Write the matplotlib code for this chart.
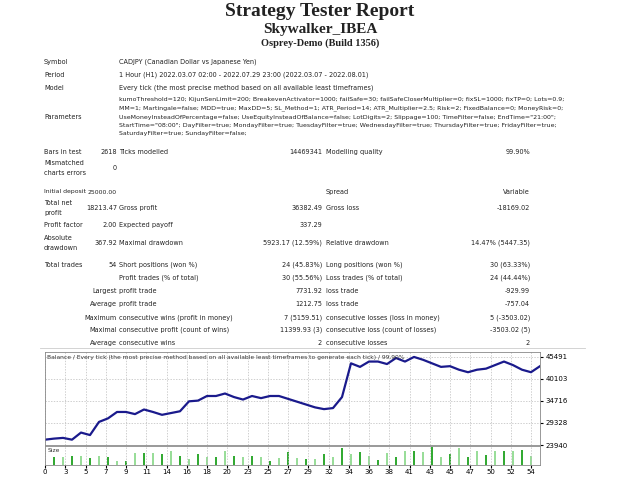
import matplotlib
matplotlib.use("Agg")
import matplotlib.pyplot as plt
import numpy as np

# balance after each trade (trade 0 = initial)
balance = [25244, 25504, 25678, 25244, 26982, 26373, 29589, 30458, 32022, 32022,
           31500, 32630, 32022, 31327, 31761, 32196, 34629, 34803, 35932, 35932,
           36541, 35672, 35063, 35932, 35411, 35932, 35932, 35237, 34542, 33847,
           33151, 32717, 32978, 35672, 43927, 43058, 44362, 44362, 43753, 45231,
           44362, 45491, 44796, 43927, 43058, 43232, 42363, 41754, 42363, 42624,
           43493, 44362, 43493, 42363, 41754, 43232]
lots = [0.60, 0.60, 0.65, 0.65, 0.48, 0.65, 0.60, 0.30, 0.30, 0.85,
        0.85, 0.85, 0.80, 0.98, 0.65, 0.43, 0.80, 0.55, 0.60, 0.98,
        0.65, 0.60, 0.65, 0.60, 0.30, 0.50, 0.90, 0.48, 0.40, 0.43,
        0.75, 0.55, 1.23, 0.75, 0.90, 0.65, 0.33, 0.85, 0.55, 0.98,
        1.03, 0.90, 1.30, 0.55, 0.75, 1.20, 0.60, 0.98, 0.73, 0.98,
        0.98, 0.98, 1.10, 0.65]
y_ticks = [23940, 29328, 34716, 40103, 45491]
x_labels = ["0", "3", "5", "7", "9", "11", "14", "16", "18", "20", "23", "25", "27",
            "29", "32", "34", "36", "38", "41", "43", "45", "47", "50", "52", "54"]

W, H = 640, 480
fig = plt.figure(figsize=(6.4, 4.8), dpi=100)
fig.patch.set_facecolor("white")

def t(x, y, s, size=4.7, ha="left", **kw):
    fig.text(x / W, 1 - y / H, s, fontsize=size, ha=ha, va="center", color="#222222", **kw)

t(320, 12, "Strategy Tester Report", 14, "center", family="Liberation Serif", weight="bold")
t(320, 29, "Skywalker_IBEA", 11, "center", family="Liberation Serif", weight="bold")
t(320, 43, "Osprey-Demo (Build 1356)", 7.5, "center", family="Liberation Serif", weight="bold")

t(44, 62, "Symbol"); t(119, 62, "CADJPY (Canadian Dollar vs Japanese Yen)")
t(44, 75, "Period"); t(119, 75, "1 Hour (H1) 2022.03.07 02:00 - 2022.07.29 23:00 (2022.03.07 - 2022.08.01)")
t(44, 88, "Model"); t(119, 88, "Every tick (the most precise method based on all available least timeframes)")
t(44, 117, "Parameters")
params = [
    "kumoThreshold=120; KijunSenLimit=200; BreakevenActivator=1000; failSafe=30; failSafeCloserMultiplier=0; fixSL=1000; fixTP=0; Lots=0.9;",
    "MM=1; Martingale=false; MDD=true; MaxDD=5; SL_Method=1; ATR_Period=14; ATR_Multiplier=2.5; Risk=2; FixedBalance=0; MoneyRisk=0;",
    "UseMoneyInsteadOfPercentage=false; UseEquityInsteadOfBalance=false; LotDigits=2; Slippage=100; TimeFilter=false; EndTime=\"21:00\";",
    "StartTime=\"08:00\"; DayFilter=true; MondayFilter=true; TuesdayFilter=true; WednesdayFilter=true; ThursdayFilter=true; FridayFilter=true;",
    "SaturdayFilter=true; SundayFilter=false;",
]
for i, p in enumerate(params):
    t(119, 100 + i * 8.5, p, 4.5)

t(44, 152, "Bars in test"); t(117, 152, "2618", ha="right"); t(119, 152, "Ticks modelled")
t(322, 152, "14469341", ha="right"); t(326, 152, "Modelling quality"); t(530, 152, "99.90%", ha="right")
t(44, 163, "Mismatched"); t(44, 173, "charts errors"); t(117, 168, "0", ha="right")

t(44, 192, "Initial deposit", 4.4); t(117, 192, "25000.00", 4.4, ha="right"); t(326, 192, "Spread"); t(530, 192, "Variable", ha="right")
t(44, 203, "Total net"); t(44, 213, "profit"); t(117, 208, "18213.47", ha="right"); t(119, 208, "Gross profit")
t(322, 208, "36382.49", ha="right"); t(326, 208, "Gross loss"); t(530, 208, "-18169.02", ha="right")
t(44, 225, "Profit factor"); t(117, 225, "2.00", ha="right"); t(119, 225, "Expected payoff"); t(322, 225, "337.29", ha="right")
t(44, 238, "Absolute"); t(44, 248, "drawdown"); t(117, 243, "367.92", ha="right"); t(119, 243, "Maximal drawdown")
t(322, 243, "5923.17 (12.59%)", ha="right"); t(326, 243, "Relative drawdown"); t(530, 243, "14.47% (5447.35)", ha="right")

rows = [
    (265, "Total trades", "54", "Short positions (won %)", "24 (45.83%)", "Long positions (won %)", "30 (63.33%)"),
    (278, "", "", "Profit trades (% of total)", "30 (55.56%)", "Loss trades (% of total)", "24 (44.44%)"),
    (291, "", "Largest", "profit trade", "7731.92", "loss trade", "-929.99"),
    (304, "", "Average", "profit trade", "1212.75", "loss trade", "-757.04"),
    (318, "", "Maximum", "consecutive wins (profit in money)", "7 (5159.51)", "consecutive losses (loss in money)", "5 (-3503.02)"),
    (330, "", "Maximal", "consecutive profit (count of wins)", "11399.93 (3)", "consecutive loss (count of losses)", "-3503.02 (5)"),
    (343, "", "Average", "consecutive wins", "2", "consecutive losses", "2"),
]
for y, a, b, c, d, e, f in rows:
    t(44, y, a); t(117, y, b, ha="right"); t(119, y, c); t(322, y, d, ha="right"); t(326, y, e); t(530, y, f, ha="right")

fig.add_artist(plt.Line2D([40 / W, 585 / W], [1 - 348 / H] * 2, color="#cccccc", lw=0.6))

# balance chart
ax = fig.add_axes([45 / W, 1 - 445 / H, 495 / W, 93 / H])
xs = np.arange(len(balance))
ax.plot(xs, balance, color="#1a1a8c", lw=1.6)
ax.set_xlim(0, len(balance) - 1)
ax.set_ylim(23940, 46700)
ax.set_yticks(y_ticks)
xt = np.arange(len(x_labels)) * 2.25
ax.set_xticks(xt)
ax.set_xticklabels([])
ax.yaxis.tick_right()
ax.tick_params(axis="y", labelsize=5, length=2, pad=2)
ax.tick_params(axis="x", length=0)
ax.grid(True, color="#bbbbbb", ls=(0, (2, 2)), lw=0.5)
ax.text(0.005, 0.97, "Balance / Every tick (the most precise method based on all available least timeframes to generate each tick) / 99.90%",
        transform=ax.transAxes, fontsize=4.3, va="top", color="#333333")
for s in ax.spines.values():
    s.set_color("#888888"); s.set_linewidth(0.6)

axs = fig.add_axes([45 / W, 1 - 465 / H, 495 / W, 19 / H])
cols = ["#33aa33" if i % 2 == 0 else "#99dd99" for i in range(len(lots))]
axs.bar(np.arange(1, len(lots) + 1), lots, width=0.15, color=cols)
axs.set_xlim(0, len(balance) - 1)
axs.set_ylim(0, 1.35)
axs.set_yticks([])
axs.set_xticks(xt)
axs.set_xticklabels(x_labels)
axs.tick_params(axis="x", labelsize=5, length=2, pad=1)
axs.grid(True, axis="x", color="#bbbbbb", ls=(0, (2, 2)), lw=0.5)
axs.text(0.005, 0.92, "Size", transform=axs.transAxes, fontsize=4.3, va="top", color="#333333")
for s in axs.spines.values():
    s.set_color("#888888"); s.set_linewidth(0.6)

fig.savefig("out.png", dpi=100)
